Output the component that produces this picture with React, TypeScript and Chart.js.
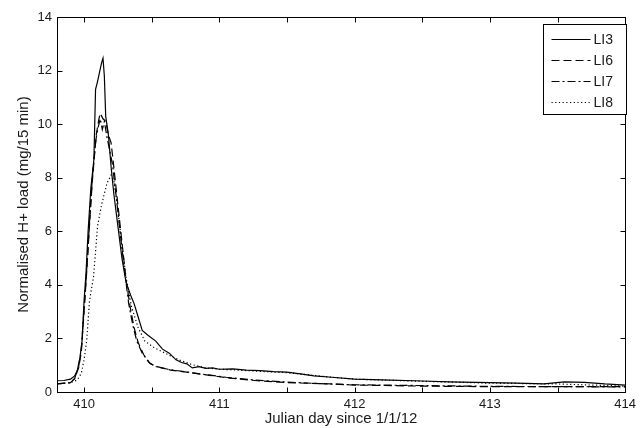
import React, { useEffect, useRef } from "react";
import { Chart, registerables } from "chart.js";

Chart.register(...registerables);

// Axis configuration values
const xMin = 409.8;
const xMax = 414;
const xTickValues = [410, 411, 412, 413, 414];
const xMinorTicks = [410, 410.5, 411, 411.5, 412, 412.5, 413, 413.5, 414];
const yTickValues = [0, 2, 4, 6, 8, 10, 12, 14];
const xTitle = "Julian day since 1/1/12";
const yTitle = "Normalised H+ load (mg/15 min)";
const seriesNames = ["LI3", "LI6", "LI7", "LI8"];

// LI3 (solid)
const li3Days = [
  409.8, 409.85, 409.9, 409.93, 409.95, 409.97, 409.985, 410.0, 410.015, 410.03,
  410.05, 410.073, 410.078, 410.085, 410.1, 410.117, 410.13, 410.14, 410.15, 410.16,
  410.18, 410.2, 410.22, 410.25, 410.28, 410.31, 410.345, 410.37, 410.4, 410.43,
  410.47, 410.53, 410.58, 410.63, 410.68, 410.72, 410.76, 410.8, 410.85, 410.9,
  410.95, 411.0, 411.1, 411.2, 411.3, 411.4, 411.5, 411.6, 411.7, 411.83,
  412.0, 412.2, 412.5, 412.7, 413.0, 413.2, 413.4, 413.55, 413.7, 413.85, 414.0,
];
const li3Values = [
  0.42, 0.43, 0.48, 0.6, 0.8, 1.3, 1.9, 3.4, 4.5, 6.0,
  7.6, 8.7, 9.8, 11.3, 11.6, 12.0, 12.3, 12.46, 11.8, 10.3,
  9.6, 8.4, 7.4, 6.2, 5.0, 4.1, 3.6, 3.3, 2.8, 2.3,
  2.13, 1.9, 1.6, 1.45, 1.2, 1.1, 1.05, 0.9, 0.95, 0.88,
  0.9, 0.85, 0.86, 0.82, 0.8, 0.76, 0.74, 0.68, 0.6, 0.55,
  0.48, 0.45, 0.41, 0.38, 0.35, 0.33, 0.3, 0.38, 0.36, 0.3, 0.26,
];

// LI6 (dashed)
const li6Days = [
  409.8, 409.9, 409.93, 409.96, 409.98, 410.0, 410.02, 410.04, 410.06, 410.075,
  410.09, 410.11, 410.12, 410.14, 410.16, 410.18, 410.2, 410.22, 410.25, 410.28,
  410.31, 410.34, 410.37, 410.4, 410.44, 410.49, 410.54, 410.64, 410.79, 410.93,
  411.08, 411.28, 411.5, 411.83, 412.0, 412.5, 413.0, 413.5, 414.0,
];
const li6Values = [
  0.3, 0.35, 0.5, 0.9, 1.5, 3.0, 4.5, 6.2, 7.8, 8.7,
  9.6, 10.2, 10.4, 10.2, 10.1, 9.6, 9.3, 8.4, 7.0, 5.6,
  4.2, 3.2, 2.4, 1.85, 1.4, 1.05, 0.95, 0.82, 0.72, 0.62,
  0.52, 0.42, 0.35, 0.3, 0.26, 0.22, 0.2, 0.2, 0.2,
];

// LI7 (dash-dot)
const li7Days = [
  409.8, 409.9, 409.93, 409.96, 409.98, 410.0, 410.02, 410.04, 410.06, 410.075,
  410.09, 410.105, 410.12, 410.135, 410.15, 410.17, 410.19, 410.21, 410.24, 410.27,
  410.3, 410.33, 410.36, 410.39, 410.43, 410.48, 410.53, 410.62, 410.75, 410.9,
  411.05, 411.25, 411.5, 411.8, 412.0, 412.5, 413.0, 413.5, 414.0,
];
const li7Values = [
  0.3, 0.35, 0.5, 0.95, 1.6, 3.1, 4.6, 6.3, 7.9, 8.8,
  9.5, 9.9, 10.2, 9.8, 10.1, 9.5, 9.0, 8.5, 7.2, 5.8,
  4.5, 3.3, 2.5, 1.9, 1.45, 1.1, 0.95, 0.85, 0.75, 0.65,
  0.55, 0.45, 0.37, 0.3, 0.27, 0.24, 0.21, 0.2, 0.19,
];

// LI8 (dotted)
const li8Days = [
  409.8, 409.9, 409.95, 409.98, 410.0, 410.02, 410.04, 410.07, 410.1, 410.13,
  410.17, 410.2, 410.22, 410.25, 410.28, 410.31, 410.35, 410.4, 410.45, 410.52,
  410.6, 410.7, 410.8, 410.9, 411.0, 411.2, 411.5, 411.83, 412.0, 412.5,
  413.0, 413.5, 414.0,
];
const li8Values = [
  0.3, 0.35, 0.45, 0.7, 1.2, 1.94, 3.4, 4.3, 6.2, 7.0,
  7.8, 8.1, 7.9, 6.8, 5.5, 4.3, 3.2, 2.4, 1.9, 1.65,
  1.45, 1.2, 1.02, 0.9, 0.85, 0.8, 0.72, 0.55, 0.48, 0.4,
  0.33, 0.3, 0.22,
];

const seriesDays = [li3Days, li6Days, li7Days, li8Days];
const seriesValues = [li3Values, li6Values, li7Values, li8Values];
const seriesDashes: number[][] = [[], [8, 4], [8, 3, 2, 3], [1.2, 2.5]];

const FONT = "Arial, 'Liberation Sans', Helvetica, sans-serif";
const TEXT = "#1a1a1a";

const framePlugin = {
  id: "matlabFrame",
  afterDatasetsDraw(chart: any) {
    const { ctx, chartArea: a, scales } = chart;
    const L = Math.round(a.left) + 0.5;
    const R = Math.round(a.right) + 0.5;
    const T = Math.round(a.top) + 0.5;
    const B = Math.round(a.bottom) + 0.5;
    ctx.save();
    ctx.strokeStyle = "#000";
    ctx.lineWidth = 1;
    ctx.setLineDash([]);
    ctx.strokeRect(L, T, R - L, B - T);
    const tl = 5;
    ctx.beginPath();
    for (const v of xMinorTicks) {
      const px = Math.round(scales.x.getPixelForValue(v)) + 0.5;
      ctx.moveTo(px, B);
      ctx.lineTo(px, B - tl);
      ctx.moveTo(px, T);
      ctx.lineTo(px, T + tl);
    }
    for (const v of yTickValues) {
      const py = Math.round(scales.y.getPixelForValue(v)) + 0.5;
      ctx.moveTo(L, py);
      ctx.lineTo(L + tl, py);
      ctx.moveTo(R, py);
      ctx.lineTo(R - tl, py);
    }
    ctx.stroke();

    // legend
    const bx = 543.5;
    const by = 24.5;
    const bw = 83;
    const bh = 90;
    ctx.fillStyle = "#fff";
    ctx.fillRect(bx, by, bw, bh);
    ctx.strokeRect(bx, by, bw, bh);
    ctx.font = `14px ${FONT}`;
    ctx.textBaseline = "middle";
    ctx.textAlign = "left";
    chart.data.datasets.forEach((ds: any, i: number) => {
      const y = Math.round(by + 14 + i * 21) + 0.5;
      ctx.strokeStyle = "#000";
      ctx.lineWidth = 1.2;
      ctx.setLineDash(ds.borderDash || []);
      ctx.beginPath();
      ctx.moveTo(bx + 8, y);
      ctx.lineTo(bx + 47, y);
      ctx.stroke();
      ctx.setLineDash([]);
      ctx.fillStyle = TEXT;
      ctx.fillText(ds.label, bx + 50, y + 1);
    });
    ctx.restore();
  },
};

export default function App() {
  const canvasRef = useRef<HTMLCanvasElement | null>(null);

  useEffect(() => {
    const canvas = canvasRef.current;
    if (!canvas) return;
    const datasets = seriesNames.map((name, i) => ({
      label: name,
      data: seriesDays[i].map((d, j) => ({ x: d, y: seriesValues[i][j] })),
      borderColor: "#000",
      backgroundColor: "#000",
      borderWidth: 1.2,
      borderDash: seriesDashes[i],
      pointRadius: 0,
      tension: 0,
      fill: false,
    }));
    const chart = new Chart(canvas, {
      type: "line",
      data: { datasets },
      plugins: [framePlugin],
      options: {
        animation: false,
        responsive: false,
        devicePixelRatio: 1,
        layout: { padding: { left: 0, right: 13, top: 17, bottom: 0 } },
        plugins: { legend: { display: false }, tooltip: { enabled: false } },
        scales: {
          x: {
            type: "linear",
            min: xMin,
            max: xMax,
            grid: { display: false, drawTicks: false },
            border: { display: false },
            afterBuildTicks: (scale: any) => {
              scale.ticks = xTickValues.map((v) => ({ value: v }));
            },
            afterFit: (scale: any) => {
              scale.height = 36;
            },
            ticks: {
              padding: 5,
              maxRotation: 0,
              autoSkip: false,
              color: TEXT,
              font: { family: FONT, size: 13 },
              callback: (v: any) => String(v),
            },
            title: {
              display: true,
              text: xTitle,
              color: TEXT,
              font: { family: FONT, size: 15 },
              padding: { top: 0, bottom: 0 },
            },
          },
          y: {
            type: "linear",
            min: 0,
            max: 14,
            grid: { display: false, drawTicks: false },
            border: { display: false },
            afterBuildTicks: (scale: any) => {
              scale.ticks = yTickValues.map((v) => ({ value: v }));
            },
            afterFit: (scale: any) => {
              scale.width = 57;
            },
            ticks: {
              padding: 5,
              autoSkip: false,
              color: TEXT,
              font: { family: FONT, size: 13 },
              callback: (v: any) => String(v),
            },
            title: {
              display: true,
              text: yTitle,
              color: TEXT,
              font: { family: FONT, size: 15 },
              padding: { top: 15, bottom: 0 },
            },
          },
        },
      },
    });
    return () => chart.destroy();
  }, []);

  return (
    <div style={{ position: "fixed", left: 0, top: 0, width: 641, height: 428, background: "#fff" }}>
      <canvas ref={canvasRef} width={641} height={428} style={{ width: 641, height: 428, display: "block" }} />
    </div>
  );
}
